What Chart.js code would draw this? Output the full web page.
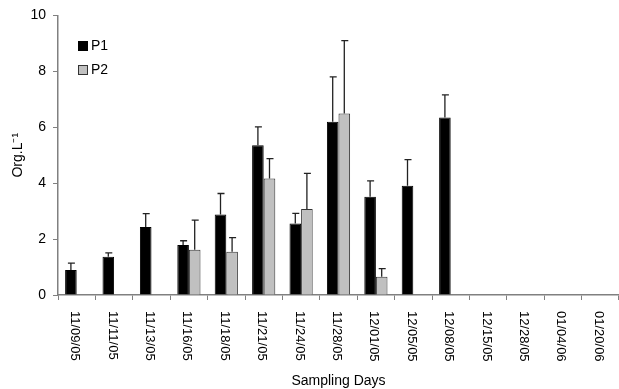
<!DOCTYPE html>
<html>
<head>
<meta charset="utf-8">
<script src="https://cdn.jsdelivr.net/npm/chart.js@4/dist/chart.umd.min.js"></script>
<style>
  body { margin: 0; background: #fff; }
  #wrap { position: relative; width: 619px; height: 389px; }
  #legend { position: absolute; left: 78px; top: 37px; font: 14px 'Liberation Sans', Arial, sans-serif; color: #000; }
  #legend div { height: 24px; line-height: 16px; }
  #legend span.box { display: inline-block; width: 10px; height: 10px; margin-right: 3px; vertical-align: -1px; box-sizing: border-box; }
</style>
</head>
<body>
<div id="wrap">
  <canvas id="chart" width="619" height="389"></canvas>
  <div id="legend">
    <div><span class="box" style="background:#000;border:1px solid #000"></span>P1</div>
    <div><span class="box" style="background:#c0c0c0;border:1px solid #333"></span>P2</div>
  </div>
</div>
<script>
var days = ['11/09/05', '11/11/05', '11/13/05', '11/16/05', '11/18/05', '11/21/05', '11/24/05',
  '11/28/05', '12/01/05', '12/05/05', '12/08/05', '12/15/05', '12/28/05', '01/04/06', '01/20/06']

var p1 = [0.89, 1.37, 2.43, 1.79, 2.88, 5.36, 2.56, 6.2, 3.51, 3.91, 6.35, null, null, null, null]
var p1Err = [0.25, 0.14, 0.48, 0.15, 0.75, 0.65, 0.36, 1.6, 0.57, 0.93, 0.81, null, null, null, null]

var p2 = [null, null, null, 1.62, 1.55, 4.17, 3.08, 6.49, 0.65, null, null, null, null, null, null]
var p2Err = [null, null, null, 1.06, 0.5, 0.71, 1.27, 2.61, 0.29, null, null, null, null, null, null]

var yTicks = [0, 2, 4, 6, 8, 10]

Chart.defaults.font.family = "'Liberation Sans', Arial, sans-serif"
Chart.defaults.color = '#000'

// error bars (upward only) and rotated date labels
var extras = {
  id: 'extras',
  afterDatasetsDraw: function(chart) {
    var ctx = chart.ctx
    var yScale = chart.scales.y
    var errs = [p1Err, p2Err]
    var vals = [p1, p2]
    ctx.save()
    ctx.strokeStyle = '#222'
    ctx.lineWidth = 1.3
    chart.data.datasets.forEach(function(ds, d) {
      var meta = chart.getDatasetMeta(d)
      meta.data.forEach(function(bar, i) {
        if (vals[d][i] == null || errs[d][i] == null) return
        var top = yScale.getPixelForValue(vals[d][i] + errs[d][i])
        ctx.beginPath()
        ctx.moveTo(bar.x, bar.y)
        ctx.lineTo(bar.x, top)
        ctx.moveTo(bar.x - 3, top)
        ctx.lineTo(bar.x + 4, top)
        ctx.stroke()
      })
    })
    ctx.restore()
  },
  afterDraw: function(chart) {
    var ctx = chart.ctx
    var xScale = chart.scales.x
    ctx.save()
    ctx.fillStyle = '#000'
    ctx.font = "13px 'Liberation Sans', Arial, sans-serif"
    ctx.textAlign = 'left'
    ctx.textBaseline = 'middle'
    days.forEach(function(label, i) {
      var x = xScale.getPixelForValue(i) - 2
      ctx.save()
      ctx.translate(x, chart.chartArea.bottom + 16)
      ctx.rotate(Math.PI / 2)
      ctx.fillText(label, 0, 0)
      ctx.restore()
    })
    ctx.restore()
  }
}

var ctx = document.getElementById('chart').getContext('2d')
var chart = new Chart(ctx, {
  type: 'bar',
  data: {
    labels: days,
    datasets: [{
      label: 'P1',
      data: p1,
      backgroundColor: '#000',
      borderColor: '#000',
      borderWidth: 1
    }, {
      label: 'P2',
      data: p2,
      backgroundColor: '#c0c0c0',
      borderColor: '#333',
      borderWidth: 1
    }]
  },
  options: {
    responsive: false,
    animation: false,
    layout: { autoPadding: false, padding: { top: 14, right: 0, left: 0, bottom: 0 } },
    categoryPercentage: 0.62,
    barPercentage: 1,
    plugins: {
      legend: { display: false },
      tooltip: { enabled: false }
    },
    scales: {
      x: {
        grid: { drawOnChartArea: false, offset: true, tickLength: 5, color: '#808080' },
        border: { color: '#808080', width: 1.5 },
        ticks: { display: false },
        title: { display: true, text: 'Sampling Days', font: { size: 14, lineHeight: 1.1 }, padding: { top: 0, bottom: 0 } },
        afterFit: function(scale) { scale.height = 94 }
      },
      y: {
        min: 0,
        max: 10,
        afterBuildTicks: function(scale) {
          scale.ticks = yTicks.map(function(v) { return { value: v } })
        },
        grid: { drawOnChartArea: false, tickLength: 5, color: '#808080' },
        border: { color: '#808080', width: 1.5 },
        ticks: { font: { size: 14 }, padding: 7 },
        title: { display: true, text: 'Org.L\u207B\u00B9', font: { size: 14 }, padding: { top: 10, bottom: 0 } },
        afterFit: function(scale) { scale.width = 58 }
      }
    }
  },
  plugins: [extras]
})
</script>
</body>
</html>
